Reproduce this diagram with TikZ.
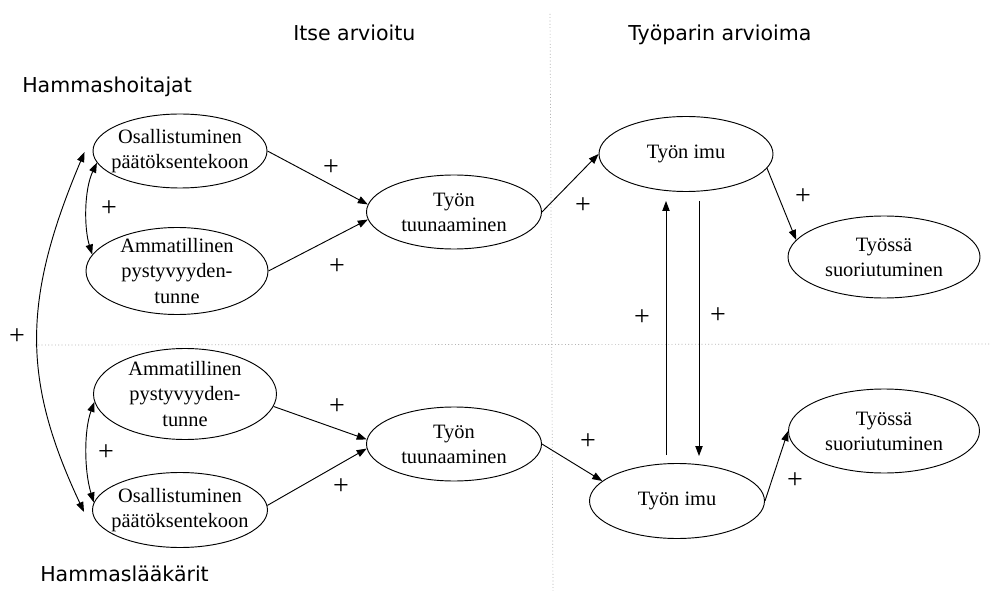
\documentclass[tikz,border=0pt]{standalone}
\usepackage{fontspec}
\setmainfont{Liberation Serif}
\newfontfamily\hdfont{DejaVu Sans}
\usetikzlibrary{shapes.geometric,arrows.meta,calc}
\begin{document}
\begin{tikzpicture}[x=0.75pt,y=-0.75pt,
  oval/.style 2 args={ellipse,draw,line width=0.7pt,inner sep=0pt,minimum width={#1*0.75pt},minimum height={#2*0.75pt}},
  txt/.style={align=center,font=\fontsize{15.3}{18.8}\selectfont,inner sep=0pt},
  arr/.style={line width=0.7pt,-{Triangle[length=7.5pt,width=5.5pt]}},
  dbl/.style={line width=0.7pt,{Triangle[length=7.5pt,width=5.5pt]}-{Triangle[length=7.5pt,width=5.5pt]}},
  plus/.style={font=\fontsize{21}{21}\selectfont,inner sep=0pt},
  head/.style={font=\hdfont\fontsize{15.4}{18}\selectfont,anchor=base west,inner sep=0pt},
  guide/.style={black!45,dotted,line width=0.5pt}]
\fill[white] (0,0) rectangle (991,591);
\useasboundingbox (0,0) rectangle (991,591);

% guide lines
\coordinate (vtop) at (550,14);
\coordinate (vbot) at (553,591);
\coordinate (hl) at (35,345);
\coordinate (hr) at (991,344);
\draw[guide] (vtop) -- (vbot);
\draw[guide] (hl) -- (hr);

% headings
\node[head] (h1) at (293,41) {Itse arvioitu};
\node[head] (h2) at (628,41) {Työparin arvioima};
\node[head] (h3) at (22,93) {Hammashoitajat};
\node[head] (h4) at (40,581) {Hammaslääkärit};

% ellipses (top)
\node[oval={174}{74},label={[txt]center:{Osallistuminen\\päätöksentekoon}}] (o1) at (180,151) {};
\node[oval={182}{87},label={[txt]center:{Ammatillinen\\pystyvyyden-\\tunne}}] (a1) at (177,271) {};
\node[oval={175}{74},label={[txt]center:{Työn\\tuunaaminen}}] (t1) at (454,212) {};
\node[oval={174}{75},label={[txt]center:{Työn imu}}] (i1) at (686,154) {};
\node[oval={192}{82},label={[txt]center:{Työssä\\suoriutuminen}}] (s1) at (884,257) {};

% ellipses (bottom)
\node[oval={183}{91},label={[txt]center:{Ammatillinen\\pystyvyyden-\\tunne}}] (a2) at (185,394) {};
\node[oval={175}{75},label={[txt]center:{Osallistuminen\\päätöksentekoon}}] (o2) at (180,510) {};
\node[oval={175}{74},label={[txt]center:{Työn\\tuunaaminen}}] (t2) at (454,444) {};
\node[oval={175}{75},label={[txt]center:{Työn imu}}] (i2) at (677,501) {};
\node[oval={191}{84},label={[txt]center:{Työssä\\suoriutuminen}}] (s2) at (884,431) {};

% arrows top
\draw[arr] (o1.east) -- (t1.175);
\draw[arr] (a1.east) -- (t1.185);
\draw[arr] (t1.east) -- (i1.180);
\draw[arr] (i1.-10) -- (s1.169);

% arrows bottom
\draw[arr] (a2.-8) -- (t2.177);
\draw[arr] (o2.3) -- (t2.183);
\draw[arr] (t2.east) -- (i2.165);
\draw[arr] (i2.east) -- (s2.west);

% vertical arrows
\draw[arr] ($(i2.north)+(-11,-8)$) -- ($(i1.south)+(-20,9)$);
\draw[arr] ($(i1.south)+(13,9)$) -- ($(i2.north)+(22,-7)$);

% correlations
\draw[dbl] (o1.188) .. controls (84,190) and (84,228) .. (a1.169);
\draw[dbl] (a2.185) .. controls (84,430) and (84,470) .. (o2.175);
\draw[dbl] ($(o1.west)+(-8,1)$) .. controls (22,300) and (22,380) .. ($(o2.west)+(-8,2)$);

% plus signs
\node[plus] (p1) at (331,168) {+};
\node[plus] (p2) at (109,209) {+};
\node[plus] (p3) at (337,267) {+};
\node[plus] (p4) at (583,206) {+};
\node[plus] (p5) at (803,197) {+};
\node[plus] (p6) at (17,337) {+};
\node[plus] (p7) at (642,318) {+};
\node[plus] (p8) at (718,316) {+};
\node[plus] (p9) at (337,407) {+};
\node[plus] (p10) at (106,453) {+};
\node[plus] (p11) at (341,487) {+};
\node[plus] (p12) at (588,442) {+};
\node[plus] (p13) at (795,481) {+};
\end{tikzpicture}
\end{document}
